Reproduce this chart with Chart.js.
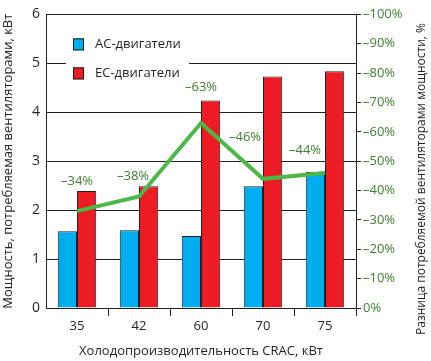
<!DOCTYPE html>
<html>
<head>
<meta charset="utf-8">
<script src="https://cdn.jsdelivr.net/npm/chart.js@4.4.1/dist/chart.umd.min.js"></script>
<style>
  html, body { margin: 0; padding: 0; background: #fff; }
  #wrap { width: 431px; height: 361px; }
</style>
</head>
<body>
<div id="wrap"><canvas id="chart"></canvas></div>
<script>
const categories = ["35", "42", "60", "70", "75"];
const acPower = [1.57, 1.59, 1.47, 2.49, 2.78];
const ecPower = [2.39, 2.49, 4.24, 4.73, 4.84];
const diffLine = [-33, -38, -63, -44, -46];
const diffLabels = ["\u201334%", "\u201338%", "\u201363%", "\u201346%", "\u201344%"];
// label placement relative to the line point (px)
const labelOffsets = [[0, -30], [-6, -20], [0, -36], [-18, -42], [-20, -23]];

const textColor = "#231f20";
const greenText = "#3f7f2f";
const font = "'Open Sans', 'Noto Sans', sans-serif";

const legendPlugin = {
  id: "insideLegend",
  afterDatasetsDraw(chart) {
    const ctx = chart.ctx;
    const area = chart.chartArea;
    const x0 = area.left + 20;
    const y0 = area.top + 24;
    ctx.save();
    ctx.fillStyle = "#fff";
    ctx.fillRect(x0, y0 - 4, 123, 50);
    const items = [["АС-двигатели", "#00aeef"], ["ЕС-двигатели", "#ed1c24"]];
    items.forEach((it, i) => {
      const y = y0 + i * 29;
      ctx.fillStyle = it[1];
      ctx.fillRect(x0 + 7, y, 11, 12);
      ctx.strokeStyle = "#231f20";
      ctx.lineWidth = 1;
      ctx.strokeRect(x0 + 7.5, y + 0.5, 10, 11);
      ctx.fillStyle = textColor;
      ctx.font = "13px " + font;
      ctx.textBaseline = "middle";
      ctx.fillText(it[0], x0 + 29, y + 6);
    });

    // percentage labels over the line
    const meta = chart.getDatasetMeta(2);
    ctx.fillStyle = greenText;
    ctx.font = "13px " + font;
    ctx.textAlign = "center";
    ctx.textBaseline = "middle";
    meta.data.forEach((pt, i) => {
      ctx.fillText(diffLabels[i], pt.x + labelOffsets[i][0], pt.y + labelOffsets[i][1]);
    });

    // right axis title
    ctx.fillStyle = textColor;
    ctx.font = "12px " + font;
    ctx.translate(chart.width - 9, 179);
    ctx.rotate(-Math.PI / 2);
    ctx.fillText("Разница потребляемой вентиляторами мощности, %", 0, 0);
    ctx.restore();
  }
};

new Chart(document.getElementById("chart"), {
  type: "bar",
  data: {
    labels: categories,
    datasets: [
      {
        label: "АС-двигатели",
        data: acPower,
        backgroundColor: "#00aeef",
        borderColor: "#231f20",
        borderWidth: 1,
        yAxisID: "y",
        order: 2,
      },
      {
        label: "ЕС-двигатели",
        data: ecPower,
        backgroundColor: "#ed1c24",
        borderColor: "#231f20",
        borderWidth: 1,
        yAxisID: "y",
        order: 2,
      },
      {
        type: "line",
        label: "Разница",
        data: diffLine,
        borderColor: "#4cb848",
        borderWidth: 4,
        pointRadius: 0,
        tension: 0,
        yAxisID: "y1",
        order: 1,
      },
    ],
  },
  options: {
    responsive: true,
    maintainAspectRatio: false,
    animation: false,
    layout: { padding: { top: 14, left: 0, right: 0, bottom: 0 } },
    plugins: {
      legend: { display: false },
      tooltip: { enabled: false },
    },
    datasets: {
      bar: { categoryPercentage: 0.62, barPercentage: 1.0 },
    },
    scales: {
      x: {
        offset: true,
        grid: {
          offset: true,
          drawOnChartArea: false,
          tickLength: 8,
          color: (c) => (c.index === 0 || c.index === categories.length ? "rgba(0,0,0,0)" : "#231f20"),
        },
        border: { display: false },
        ticks: { color: textColor, font: { family: font, size: 13 }, padding: 2 },
        title: {
          display: true,
          text: "Холодопроизводительность CRAC, кВт",
          color: textColor,
          font: { family: font, size: 13 },
          padding: { top: 5, bottom: 2 },
        },
        afterFit: (s) => { s.height = 53; },
      },
      y: {
        position: "left",
        min: 0,
        max: 6,
        ticks: { stepSize: 1, color: textColor, font: { family: font, size: 14 }, padding: 6 },
        grid: { color: "#231f20", drawTicks: false },
        border: { color: "#231f20" },
        title: {
          display: true,
          text: "Мощность, потребляемая вентиляторами, кВт",
          color: textColor,
          font: { family: font, size: 13 },
          padding: 0,
        },
        afterFit: (s) => { s.width = 46; },
      },
      y1: {
        position: "right",
        min: -100,
        max: 0,
        reverse: true,
        ticks: {
          stepSize: 10,
          color: greenText,
          font: { family: font, size: 13 },
          padding: 2,
          callback: (v) => (v === 0 ? "0%" : "\u2013" + Math.abs(v) + "%"),
        },
        grid: { drawOnChartArea: false, tickLength: 5, color: "#231f20" },
        border: { color: "#231f20" },
        title: { display: false },
        afterFit: (s) => { s.width = 75; },
      },
    },
  },
  plugins: [legendPlugin],
});
</script>
</body>
</html>
